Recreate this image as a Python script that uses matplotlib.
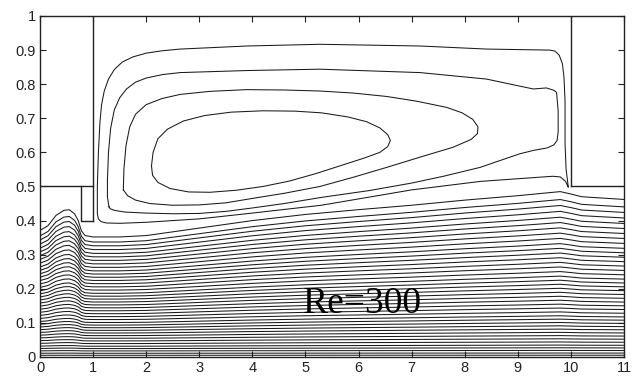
import numpy as np
import matplotlib
matplotlib.use("Agg")
import matplotlib.pyplot as plt

# --- channel streamlines: heights where they enter at x = 0 ---
inlet_y = [0.371, 0.355, 0.343, 0.331, 0.319, 0.308, 0.297, 0.286, 0.275, 0.264,
           0.254, 0.244, 0.234, 0.224, 0.214, 0.204, 0.194, 0.185, 0.176, 0.167,
           0.158, 0.149, 0.140, 0.131, 0.122, 0.113, 0.104, 0.096, 0.088, 0.080,
           0.072, 0.064, 0.056, 0.048, 0.040, 0.032, 0.025, 0.018, 0.011, 0.005]

# path of the top channel streamline (read at a few stations)
station_x = [0, 0.15, 0.3, 0.45, 0.55, 0.65, 0.72, 0.78, 0.85, 1.0, 1.5, 2, 3, 4,
             5, 6, 7, 8, 9, 9.8, 10.0, 10.2, 10.5, 11]
top_path_y = [0.371, 0.385, 0.415, 0.430, 0.432, 0.420, 0.400, 0.370, 0.356, 0.352,
              0.352, 0.356, 0.378, 0.400, 0.418, 0.432, 0.445, 0.460, 0.473, 0.485,
              0.478, 0.470, 0.467, 0.462]

# --- recirculation streamlines inside the cavity ---
loop1_x = [9.95, 9.90, 9.80, 9.66, 8.3, 7.0, 5.3, 4.0, 3.0, 2.0, 1.5, 1.25, 1.15,
           1.10, 1.08, 1.08, 1.10, 1.13, 1.16, 1.21, 1.29, 1.40, 1.55, 1.75, 2.0,
           2.3, 2.64, 3.9, 5.27, 7.16, 8.41, 9.6, 9.70, 9.78, 9.84, 9.87, 9.89,
           9.89, 9.91, 9.95]
loop1_y = [0.498, 0.515, 0.528, 0.530, 0.515, 0.490, 0.445, 0.422, 0.405, 0.395,
           0.392, 0.393, 0.397, 0.405, 0.420, 0.500, 0.600, 0.690, 0.740, 0.780,
           0.815, 0.843, 0.865, 0.880, 0.891, 0.898, 0.903, 0.912, 0.917, 0.912,
           0.903, 0.900, 0.897, 0.885, 0.860, 0.820, 0.750, 0.625, 0.550, 0.500]

loop2_x = [1.30, 1.27, 1.27, 1.29, 1.33, 1.40, 1.50, 1.63, 1.8, 2.0, 2.3, 2.64,
           3.89, 5.27, 7.16, 8.41, 9.29, 9.54, 9.68, 9.73, 9.76, 9.76, 9.74, 9.68,
           9.55, 9.3, 9.04, 8.7, 8.29, 7.6, 7.0, 6.2, 5.3, 4.6, 4.0, 3.5, 3.0, 2.5,
           2.0, 1.6, 1.4, 1.32, 1.30]
loop2_y = [0.440, 0.470, 0.520, 0.600, 0.670, 0.725, 0.760, 0.786, 0.806, 0.818,
           0.828, 0.834, 0.840, 0.844, 0.834, 0.815, 0.786, 0.789, 0.782, 0.776,
           0.722, 0.660, 0.635, 0.622, 0.613, 0.606, 0.596, 0.578, 0.556, 0.530,
           0.510, 0.488, 0.468, 0.450, 0.437, 0.427, 0.421, 0.420, 0.422, 0.425,
           0.430, 0.435, 0.440]

loop3_x = [1.57, 1.58, 1.62, 1.69, 1.80, 2.0, 2.3, 2.64, 3.2, 3.89, 4.6, 5.27,
           5.9, 6.53, 7.1, 7.66, 7.95, 8.15, 8.25, 8.24, 8.12, 7.78, 7.2, 6.53,
           5.9, 5.27, 4.6, 4.0, 3.5, 3.0, 2.5, 2.07, 1.80, 1.65, 1.57]
loop3_y = [0.490, 0.550, 0.620, 0.675, 0.712, 0.740, 0.758, 0.770, 0.779, 0.784,
           0.783, 0.780, 0.774, 0.764, 0.750, 0.732, 0.716, 0.697, 0.675, 0.655,
           0.638, 0.615, 0.588, 0.556, 0.527, 0.500, 0.480, 0.465, 0.452, 0.446,
           0.445, 0.450, 0.460, 0.473, 0.490]

loop4_x = [2.10, 2.13, 2.22, 2.40, 2.70, 3.1, 3.6, 4.2, 4.8, 5.3, 5.8, 6.15, 6.40,
           6.55, 6.60, 6.55, 6.40, 6.1, 5.7, 5.2, 4.7, 4.2, 3.7, 3.2, 2.8, 2.45,
           2.22, 2.12, 2.10]
loop4_y = [0.560, 0.600, 0.640, 0.668, 0.692, 0.708, 0.718, 0.722, 0.721, 0.716,
           0.704, 0.690, 0.672, 0.652, 0.635, 0.617, 0.600, 0.583, 0.563, 0.538,
           0.516, 0.500, 0.489, 0.483, 0.484, 0.494, 0.512, 0.533, 0.560]

# geometry of the channel walls
cavity_left, cavity_right, cavity_floor = 1.0, 10.0, 0.5
block_x0, block_x1, block_y0 = 0.78, 1.0, 0.4

fig = plt.figure(figsize=(6.34, 3.78), dpi=100)
ax = fig.add_axes([0.0631, 0.0556, 0.9211, 0.9021])

lc = '#1a1a1a'
lw = 0.75

# channel lines: the top line's rise is carried down, fading towards the floor
sx = np.array(station_x)
rise = np.array(top_path_y) - inlet_y[0]
for y0 in inlet_y:
    w = (y0 / inlet_y[0]) ** 1.5
    ax.plot(sx, y0 + rise * w, color=lc, lw=lw)

for lx, ly in [(loop1_x, loop1_y), (loop2_x, loop2_y),
               (loop3_x, loop3_y), (loop4_x, loop4_y)]:
    ax.plot(lx, ly, color=lc, lw=lw)

# walls
wc = '#222222'
ax.plot([0, cavity_left], [cavity_floor, cavity_floor], color=wc, lw=1.0)
ax.plot([cavity_left, cavity_left], [block_y0, 1], color=wc, lw=1.0)
ax.plot([block_x0, block_x0, block_x1], [cavity_floor, block_y0, block_y0], color=wc, lw=1.0)
ax.plot([cavity_right, cavity_right], [cavity_floor, 1], color=wc, lw=1.0)
ax.plot([cavity_right, 11], [cavity_floor, cavity_floor], color=wc, lw=1.0)

ax.text(4.95, 0.13, 'Re=300', family='Liberation Serif', fontsize=27, color='black')

ax.set_xlim(0, 11)
ax.set_ylim(0, 1)
ax.set_xticks(range(0, 12))
ax.set_yticks(np.arange(0, 1.01, 0.1))
ax.set_yticklabels(['0', '0.1', '0.2', '0.3', '0.4', '0.5', '0.6', '0.7', '0.8', '0.9', '1'])
ax.tick_params(direction='in', top=True, right=True, length=4, width=0.8,
               labelsize=10.5, colors='#222222', pad=3)
for lab in ax.get_xticklabels() + ax.get_yticklabels():
    lab.set_family('Liberation Sans')
for s in ax.spines.values():
    s.set_color('#222222')
    s.set_linewidth(1.0)

fig.savefig('out.png', dpi=100)
